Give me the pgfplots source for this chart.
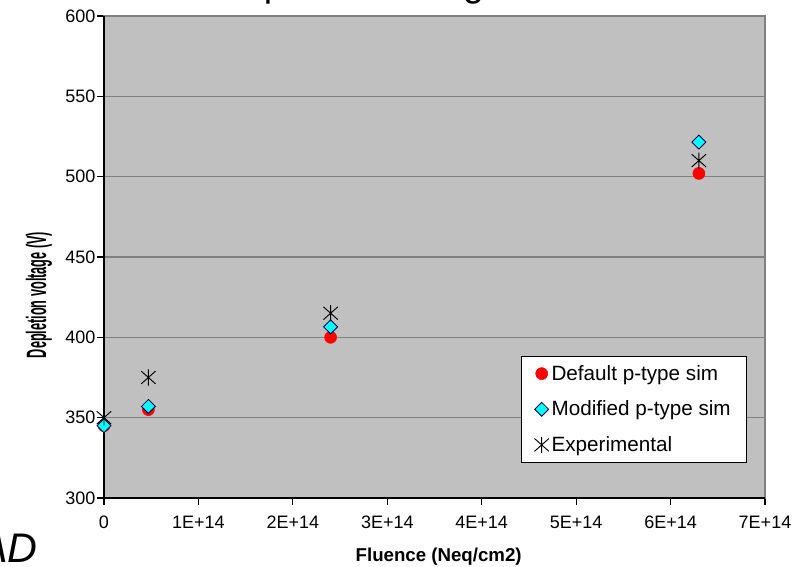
\documentclass[border=0pt]{standalone}
\usepackage{fontspec}
\setmainfont{Liberation Sans}
\usepackage{pgfplots}
\pgfplotsset{compat=1.18}
\definecolor{plotbg}{HTML}{C0C0C0}
\definecolor{gridgray}{HTML}{808080}
\definecolor{mcyan}{HTML}{00FFFF}
\pgfdeclareplotmark{xstar}{%
  \pgfpathmoveto{\pgfqpoint{0pt}{\pgfplotmarksize}}%
  \pgfpathlineto{\pgfqpoint{0pt}{-\pgfplotmarksize}}%
  \pgfpathmoveto{\pgfqpoint{-0.9\pgfplotmarksize}{-0.8\pgfplotmarksize}}%
  \pgfpathlineto{\pgfqpoint{0.9\pgfplotmarksize}{0.8\pgfplotmarksize}}%
  \pgfpathmoveto{\pgfqpoint{-0.9\pgfplotmarksize}{0.8\pgfplotmarksize}}%
  \pgfpathlineto{\pgfqpoint{0.9\pgfplotmarksize}{-0.8\pgfplotmarksize}}%
  \pgfusepathqstroke}
\begin{document}
\begin{tikzpicture}
\begin{axis}[
  at={(0,0)}, anchor=south west,
  scale only axis,
  width=495.75pt, height=361.5pt,
  xmin=0, xmax=7e14, ymin=300, ymax=600,
  xtick={0,1e14,2e14,3e14,4e14,5e14,6e14,7e14},
  xticklabels={0,1E+14,2E+14,3E+14,4E+14,5E+14,6E+14,7E+14},
  scaled x ticks=false,
  ytick={300,350,400,450,500,550,600},
  /pgf/number format/assume math mode=true,
  tick label style={font=\fontsize{13.5}{15}\selectfont, text=black},
  xticklabel style={yshift=-5pt},
  yticklabel style={xshift=2pt},
  tick align=outside,
  major tick length=5pt,
  tick style={black, line width=0.8pt},
  xtick pos=bottom, ytick pos=left,
  ymajorgrids,
  grid style={gridgray, line width=1pt},
  axis line style={gridgray, line width=1pt},
  axis background/.style={fill=plotbg},
  clip=false,
  legend style={at={(0.9728,0.0726)}, anchor=south east, draw=black, fill=white,
    font=\fontsize{15.5}{18}\selectfont, row sep=10pt, inner xsep=10pt, inner ysep=5pt,
    cells={anchor=west}},
  legend cell align=left,
]
\draw[black, line width=1pt] (rel axis cs:0,1) -- (rel axis cs:0,0) -- (rel axis cs:1,0);
\addplot[only marks, mark=*, mark size=4.5pt, mark options={fill=red, draw=red}]
  coordinates {(0,345) (4.7e13,355) (2.4e14,400) (6.3e14,502)};
\addlegendentry{Default p-type sim}
\addplot[only marks, mark=square*, mark size=3.7pt, mark options={rotate=45, fill=mcyan, draw=black!70!blue, line width=0.6pt}]
  coordinates {(0,345) (4.7e13,357) (2.4e14,406.5) (6.3e14,521.5)};
\addlegendentry{Modified p-type sim}
\addplot[only marks, mark=xstar, mark size=6pt, mark options={draw=black, line width=0.7pt}]
  coordinates {(0,350) (4.7e13,375) (2.4e14,415) (6.3e14,510)};
\addlegendentry{Experimental}
\end{axis}
% title (mostly cut off by the page edge, as in the reference)
\node[anchor=base west, inner sep=0pt, font=\fontsize{28}{32}\selectfont] at (84pt,375.75pt) {Depletion voltage vs fluence};
% axis titles
\node[rotate=90, inner sep=0pt] at (-48.75pt,152.25pt) {\scalebox{0.68}[1.5]{\bfseries\fontsize{14}{16}\selectfont Depletion voltage (V)}};
\node[anchor=base, inner sep=0pt, font=\bfseries\fontsize{14}{16}\selectfont] at (251pt,-47.25pt) {Fluence (Neq/cm2)};
% cut-off side text
\node[anchor=base east, inner sep=0pt, font=\itshape\fontsize{31}{34}\selectfont] at (-49.5pt,-48pt) {TCAD};
\pgfresetboundingbox
\useasboundingbox (-78pt,-51.75pt) rectangle (526.5pt,373.5pt);
\end{tikzpicture}
\end{document}
